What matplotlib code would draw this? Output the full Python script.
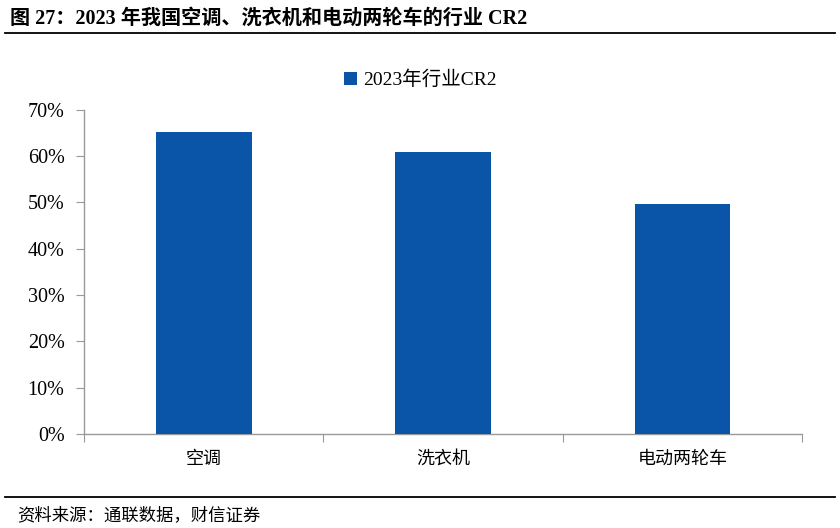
import matplotlib.pyplot as plt
import numpy as np

categories = ['空调', '洗衣机', '电动两轮车']
cr2 = [0.652, 0.610, 0.497]
series_name = '2023年行业CR2'
yticks = [0, 0.1, 0.2, 0.3, 0.4, 0.5, 0.6, 0.7]

fam = ['Liberation Serif', 'Noto Sans CJK SC', 'DejaVu Sans']
plt.rcParams['font.family'] = fam

fig = plt.figure(figsize=(8.4, 5.28), dpi=100)
ax = fig.add_axes([0.1, 0.178, 0.855, 0.6139])

x = np.arange(len(categories))
bars = ax.bar(x, cr2, width=0.4, color='#0A55A8', label=series_name, zorder=3)

ax.set_xlim(-0.5, len(categories) - 0.5)
ax.set_ylim(0, 0.7)
ax.set_yticks(yticks)
ax.set_yticklabels(['%d%%' % round(v * 100) for v in yticks], fontsize=14.5)

ax.set_xticks(np.arange(-0.5, len(categories), 1.0))
ax.set_xticklabels([])
ax.set_xticks(x, minor=True)
ax.set_xticklabels(categories, minor=True, fontsize=13)
ax.tick_params(axis='x', which='major', length=6, color='#999999', direction='out')
ax.tick_params(axis='x', which='minor', length=0, pad=12)
ax.tick_params(axis='y', length=6, color='#999999', pad=8)

for s in ['top', 'right']:
    ax.spines[s].set_visible(False)
for s in ['left', 'bottom']:
    ax.spines[s].set_color('#999999')
    ax.spines[s].set_linewidth(1.0)

ax.legend(loc='lower center', bbox_to_anchor=(0.468, 1.01), frameon=False,
          fontsize=14, handlelength=0.7, handleheight=0.7, handletextpad=0.3)

fig.text(0.012, 0.965, '图 27：2023 年我国空调、洗衣机和电动两轮车的行业 CR2',
         fontsize=14.5, fontweight='bold', va='center', ha='left')
fig.add_artist(plt.Line2D([0.006, 0.994], [0.937, 0.937], color='black', lw=1.3))
fig.add_artist(plt.Line2D([0.006, 0.994], [0.059, 0.059], color='black', lw=1.3))
fig.text(0.02, 0.024, '资料来源：通联数据，财信证券', fontsize=12.5, style='italic',
         va='center', ha='left')

fig.savefig('out.png', dpi=100)
